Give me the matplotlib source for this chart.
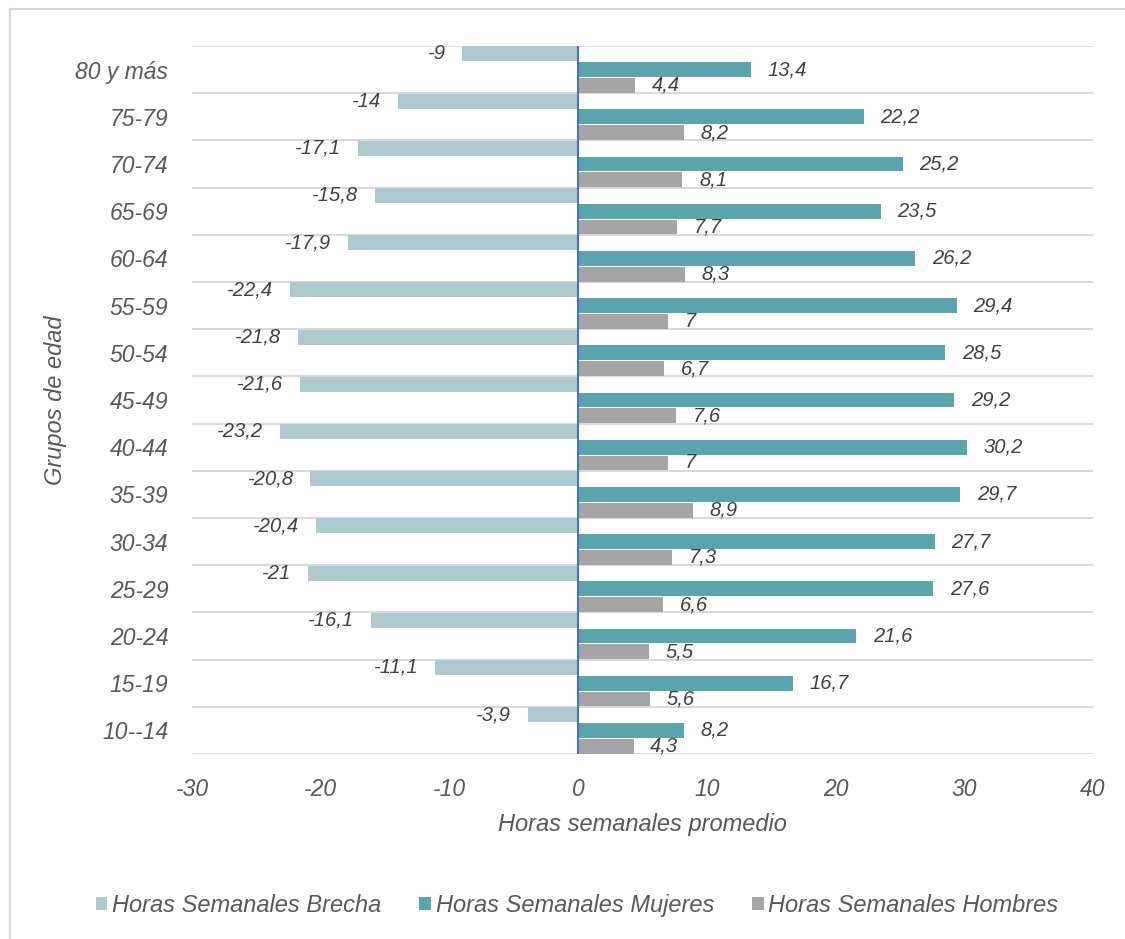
import matplotlib.pyplot as plt
import numpy as np
from matplotlib.ticker import FuncFormatter, MultipleLocator

plt.rcParams["font.family"] = ["Liberation Sans", "DejaVu Sans"]
plt.rcParams["font.style"] = "italic"

grupos = ["80 y más", "75-79", "70-74", "65-69", "60-64", "55-59", "50-54",
          "45-49", "40-44", "35-39", "30-34", "25-29", "20-24", "15-19", "10--14"]
brecha = [-9, -14, -17.1, -15.8, -17.9, -22.4, -21.8, -21.6, -23.2, -20.8,
          -20.4, -21, -16.1, -11.1, -3.9]
mujeres = [13.4, 22.2, 25.2, 23.5, 26.2, 29.4, 28.5, 29.2, 30.2, 29.7,
           27.7, 27.6, 21.6, 16.7, 8.2]
hombres = [4.4, 8.2, 8.1, 7.7, 8.3, 7, 6.7, 7.6, 7, 8.9, 7.3, 6.6, 5.5, 5.6, 4.3]

C_BRECHA = "#AEC9CF"
C_MUJERES = "#5BA3AD"
C_HOMBRES = "#A5A5A5"
TXT = "#595959"


def fmt(v):
    return f"{v:g}".replace(".", ",")


fig = plt.figure(figsize=(11.25, 9.39), dpi=100)
ax = fig.add_axes([0.1707, 0.197, 0.8009, 0.754])

n = len(grupos)
pos = np.arange(n)[::-1]  # first group on top
step = 1 / 3
h = 0.315

series = [
    (brecha, C_BRECHA, "Horas Semanales Brecha", step),
    (mujeres, C_MUJERES, "Horas Semanales Mujeres", 0.0),
    (hombres, C_HOMBRES, "Horas Semanales Hombres", -step),
]
for vals, color, label, off in series:
    bars = ax.barh(pos + off, vals, height=h, color=color, label=label, zorder=2)
    for b, v in zip(bars, vals):
        y = b.get_y() + b.get_height() / 2
        if v < 0:
            ax.annotate(fmt(v), (v, y), xytext=(-12, 0), textcoords="offset points",
                        ha="right", va="center", fontsize=14.5, color="#404040")
        else:
            ax.annotate(fmt(v), (v, y), xytext=(12, 0), textcoords="offset points",
                        ha="left", va="center", fontsize=14.5, color="#404040")

ax.set_xlim(-30, 40)
ax.set_ylim(-0.5, n - 0.5)
ax.xaxis.set_major_locator(MultipleLocator(10))
ax.xaxis.set_major_formatter(FuncFormatter(lambda v, _: f"{v:g}"))
ax.set_yticks(pos)
ax.set_yticklabels(grupos)
ax.set_yticks(np.arange(n + 1) - 0.5, minor=True)
ax.grid(True, which="minor", axis="y", color="#D9D9D9", linewidth=1.5, zorder=0)
ax.tick_params(which="both", length=0)
ax.tick_params(axis="y", labelsize=16.5, colors=TXT, pad=17)
ax.tick_params(axis="x", labelsize=16.5, colors=TXT, pad=17)
for s in ax.spines.values():
    s.set_visible(False)
ax.axvline(0, color="#4472C4", linewidth=1.5, zorder=3)

ax.set_xlabel("Horas semanales promedio", fontsize=17, color=TXT, va="center")
ax.xaxis.set_label_coords(0.5, -0.100)
ax.set_ylabel("Grupos de edad", fontsize=17, color=TXT, va="center")
ax.yaxis.set_label_coords(-0.152, 0.5)

ax.legend(loc="center", bbox_to_anchor=(0.513, 0.036), bbox_transform=fig.transFigure,
          ncol=3, frameon=False, fontsize=17, labelcolor=TXT,
          handlelength=0.5, handleheight=0.5, handletextpad=0.2, columnspacing=1.6)

# chart area border (left and top edges)
fig.add_artist(plt.Line2D([10 / 1125, 10 / 1125], [0, 1 - 9 / 939],
                          transform=fig.transFigure, color="#D9D9D9", linewidth=1.5))
fig.add_artist(plt.Line2D([10 / 1125, 1], [1 - 9 / 939, 1 - 9 / 939],
                          transform=fig.transFigure, color="#D9D9D9", linewidth=1.5))

fig.savefig("out.png", dpi=100)
